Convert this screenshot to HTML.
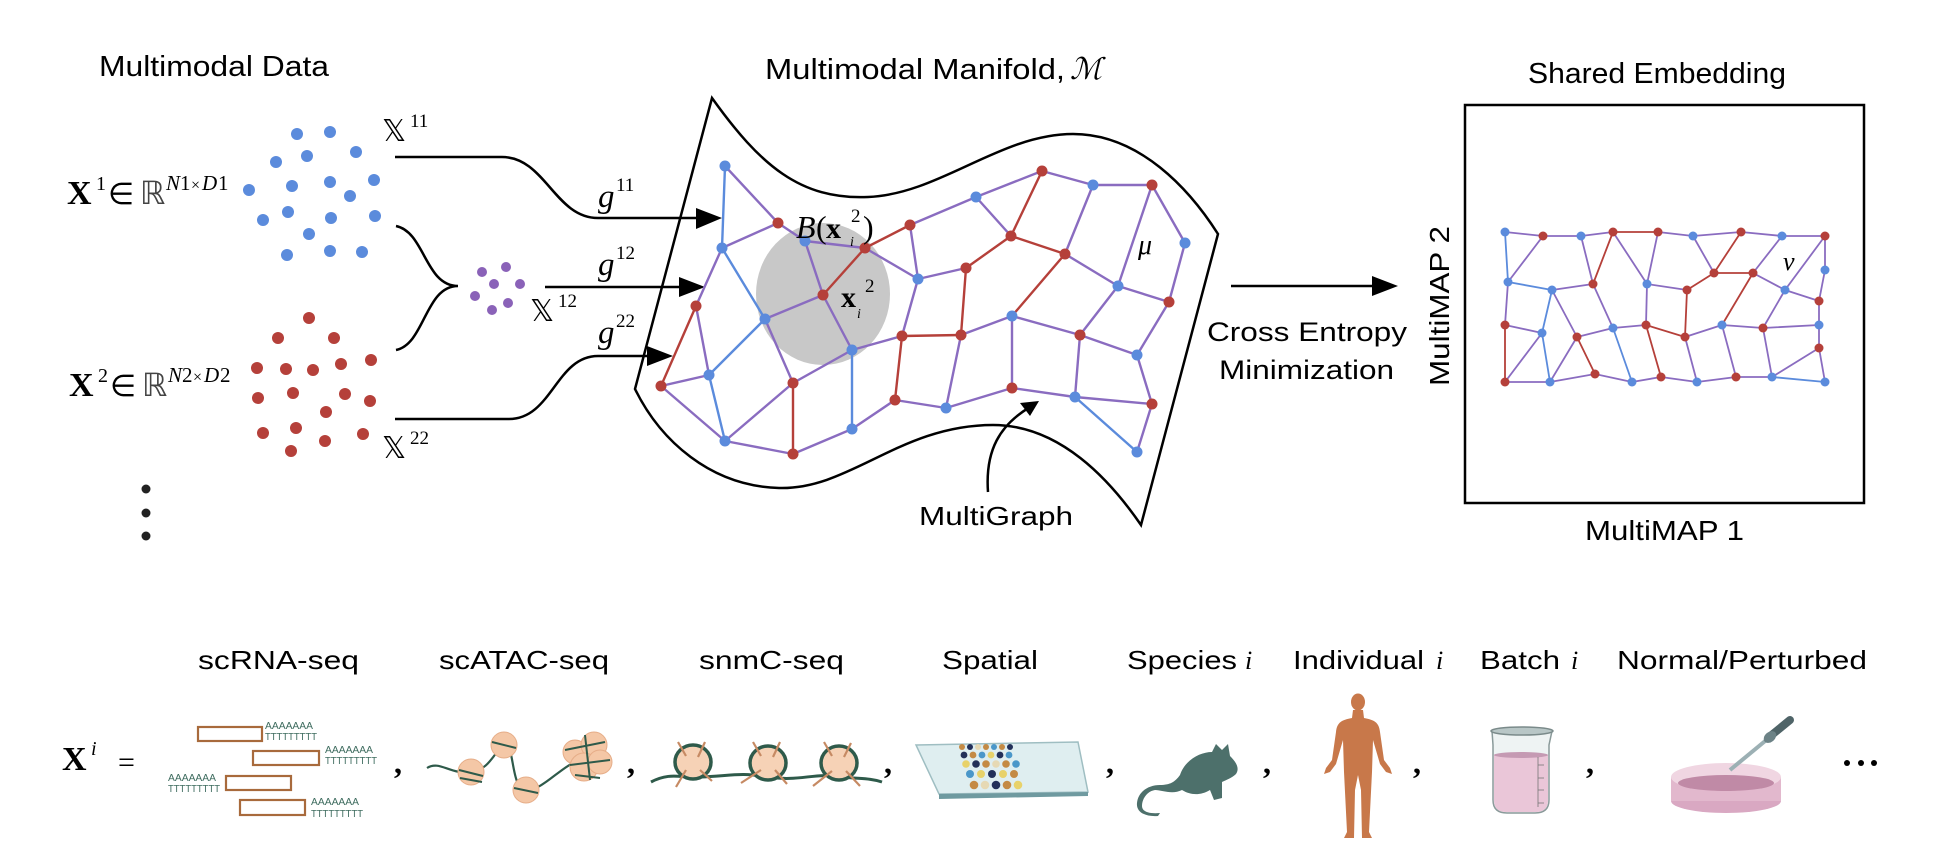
<!DOCTYPE html>
<html><head><meta charset="utf-8"><style>
html,body{margin:0;padding:0;background:#fff;}
svg{display:block;}
.s{font-family:"Liberation Sans",Arial,sans-serif;fill:#000;}
.m{font-family:"Liberation Serif","DejaVu Serif",serif;fill:#000;}
</style></head><body>
<svg width="1938" height="868" viewBox="0 0 1938 868" xmlns="http://www.w3.org/2000/svg">
<defs>
<marker id="ah" markerWidth="10" markerHeight="10" refX="9" refY="5" orient="auto" markerUnits="userSpaceOnUse"><path d="M0,0 L0,0" /></marker>
</defs>

<!-- Titles -->
<text class="s" x="99" y="76" font-size="29" textLength="230" lengthAdjust="spacingAndGlyphs">Multimodal Data</text>
<text class="s" x="765" y="79" font-size="29" textLength="300" lengthAdjust="spacingAndGlyphs">Multimodal Manifold,</text>
<text x="1070" y="79" font-size="30" font-style="italic" font-family="DejaVu Serif,serif">ℳ</text>
<text class="s" x="1528" y="83" font-size="29" textLength="258" lengthAdjust="spacingAndGlyphs">Shared Embedding</text>

<!-- X1 label -->
<text class="m" x="67" y="204" font-size="34" font-weight="bold">X</text>
<text class="m" x="96" y="190" font-size="20">1</text>
<text x="108" y="204" font-size="30" font-family="DejaVu Sans,sans-serif">∈</text>
<text x="140" y="204" font-size="32" font-family="DejaVu Sans,sans-serif" fill="#444">ℝ</text>
<text class="m" x="166" y="190" font-size="21" font-style="italic">N</text>
<text class="m" x="180" y="190" font-size="21">1</text>
<text class="m" x="191" y="190" font-size="16">×</text>
<text class="m" x="202" y="190" font-size="21" font-style="italic">D</text>
<text class="m" x="218" y="190" font-size="21">1</text>
<!-- X2 label -->
<text class="m" x="69" y="396" font-size="34" font-weight="bold">X</text>
<text class="m" x="98" y="382" font-size="20">2</text>
<text x="110" y="396" font-size="30" font-family="DejaVu Sans,sans-serif">∈</text>
<text x="142" y="396" font-size="32" font-family="DejaVu Sans,sans-serif" fill="#444">ℝ</text>
<text class="m" x="168" y="382" font-size="21" font-style="italic">N</text>
<text class="m" x="182" y="382" font-size="21">2</text>
<text class="m" x="193" y="382" font-size="16">×</text>
<text class="m" x="204" y="382" font-size="21" font-style="italic">D</text>
<text class="m" x="220" y="382" font-size="21">2</text>

<!-- blue dots -->
<g fill="#5b8bdc">
<circle cx="297" cy="134" r="6"/><circle cx="330" cy="132" r="6"/><circle cx="276" cy="162" r="6"/><circle cx="307" cy="156" r="6"/><circle cx="356" cy="152" r="6"/><circle cx="249" cy="190" r="6"/><circle cx="292" cy="186" r="6"/><circle cx="330" cy="182" r="6"/><circle cx="374" cy="180" r="6"/><circle cx="350" cy="196" r="6"/><circle cx="263" cy="220" r="6"/><circle cx="288" cy="212" r="6"/><circle cx="331" cy="218" r="6"/><circle cx="375" cy="216" r="6"/><circle cx="309" cy="234" r="6"/><circle cx="287" cy="255" r="6"/><circle cx="330" cy="251" r="6"/><circle cx="362" cy="252" r="6"/>
</g>
<g fill="#b5403a">
<circle cx="309" cy="318" r="6"/><circle cx="278" cy="338" r="6"/><circle cx="334" cy="338" r="6"/><circle cx="257" cy="368" r="6"/><circle cx="286" cy="369" r="6"/><circle cx="313" cy="370" r="6"/><circle cx="341" cy="364" r="6"/><circle cx="371" cy="360" r="6"/><circle cx="258" cy="398" r="6"/><circle cx="293" cy="393" r="6"/><circle cx="345" cy="394" r="6"/><circle cx="370" cy="401" r="6"/><circle cx="326" cy="412" r="6"/><circle cx="263" cy="433" r="6"/><circle cx="296" cy="428" r="6"/><circle cx="325" cy="441" r="6"/><circle cx="363" cy="434" r="6"/><circle cx="291" cy="451" r="6"/>
</g>
<g fill="#8a62b8">
<circle cx="482" cy="272" r="5"/><circle cx="506" cy="267" r="5"/><circle cx="494" cy="284" r="5"/><circle cx="520" cy="284" r="5"/><circle cx="475" cy="296" r="5"/><circle cx="508" cy="303" r="5"/><circle cx="492" cy="310" r="5"/>
</g>
<g fill="#222"><circle cx="146" cy="489" r="4.5"/><circle cx="146" cy="513" r="4.5"/><circle cx="146" cy="536" r="4.5"/></g>

<!-- double-struck labels -->
<text x="382" y="141" font-size="30" font-family="DejaVu Sans,sans-serif">𝕏</text><text class="m" x="410" y="127" font-size="19">11</text>
<text x="530" y="321" font-size="30" font-family="DejaVu Sans,sans-serif">𝕏</text><text class="m" x="558" y="307" font-size="19">12</text>
<text x="382" y="458" font-size="30" font-family="DejaVu Sans,sans-serif">𝕏</text><text class="m" x="410" y="444" font-size="19">22</text>

<!-- connectors -->
<g fill="none" stroke="#000" stroke-width="2.5">
<path d="M395,157 L502,157 C545,157 555,218 598,218 L700,218"/>
<path d="M396,226 C425,232 425,286 458,286 C425,286 425,344 396,350"/>
<path d="M545,287 L682,287"/>
<path d="M395,419 L509,419 C552,419 556,356 598,356 L650,356"/>
</g>
<g fill="#000">
<path d="M722,218 L696,208 L696,229 Z"/>
<path d="M705,287 L679,277 L679,297 Z"/>
<path d="M673,356 L647,346 L647,366 Z"/>
</g>
<text class="m" x="598" y="207" font-size="33" font-style="italic">g</text><text class="m" x="616" y="191" font-size="19">11</text>
<text class="m" x="598" y="275" font-size="33" font-style="italic">g</text><text class="m" x="616" y="259" font-size="19">12</text>
<text class="m" x="598" y="343" font-size="33" font-style="italic">g</text><text class="m" x="616" y="327" font-size="19">22</text>

<!-- manifold -->
<path d="M712,98 C760,165 800,200 868,197 C940,194 1000,134 1073,134 C1140,134 1190,190 1218,234 L1141,525 C1110,480 1060,425 993,425 C900,425 850,490 779,488 C710,486 660,440 635,389 Z" fill="none" stroke="#000" stroke-width="2.5"/>
<ellipse cx="823" cy="294" rx="67" ry="71" fill="#c8c8c8"/>

<g stroke-width="2.4" stroke-linecap="round">
<g stroke="#5b8bdc">
<line x1="725" y1="166" x2="722" y2="248"/><line x1="722" y1="248" x2="765" y2="319"/><line x1="765" y1="319" x2="709" y2="375"/><line x1="709" y1="375" x2="725" y2="441"/><line x1="852" y1="350" x2="852" y2="429"/><line x1="1075" y1="397" x2="1137" y2="452"/>
</g>
<g stroke="#b5403a">
<line x1="823" y1="295" x2="865" y2="248"/><line x1="865" y1="248" x2="910" y2="225"/><line x1="696" y1="306" x2="661" y2="386"/><line x1="793" y1="383" x2="793" y2="454"/><line x1="902" y1="336" x2="961" y2="335"/><line x1="902" y1="336" x2="895" y2="400"/><line x1="966" y1="268" x2="961" y2="335"/><line x1="966" y1="268" x2="1011" y2="236"/><line x1="1011" y1="236" x2="1042" y2="171"/><line x1="1011" y1="236" x2="1065" y2="254"/><line x1="1065" y1="254" x2="1012" y2="316"/>
</g>
<g stroke="#8a6cc0">
<line x1="725" y1="166" x2="778" y2="223"/><line x1="778" y1="223" x2="722" y2="248"/><line x1="778" y1="223" x2="805" y2="241"/><line x1="722" y1="248" x2="696" y2="306"/><line x1="805" y1="241" x2="865" y2="248"/><line x1="805" y1="241" x2="823" y2="295"/><line x1="865" y1="248" x2="918" y2="279"/><line x1="910" y1="225" x2="918" y2="279"/><line x1="910" y1="225" x2="976" y2="197"/><line x1="823" y1="295" x2="765" y2="319"/><line x1="765" y1="319" x2="793" y2="383"/><line x1="709" y1="375" x2="661" y2="386"/><line x1="696" y1="306" x2="709" y2="375"/><line x1="661" y1="386" x2="725" y2="441"/><line x1="725" y1="441" x2="793" y2="383"/><line x1="725" y1="441" x2="793" y2="454"/><line x1="793" y1="383" x2="852" y2="350"/><line x1="823" y1="295" x2="852" y2="350"/><line x1="793" y1="454" x2="852" y2="429"/><line x1="852" y1="429" x2="895" y2="400"/><line x1="852" y1="350" x2="902" y2="336"/><line x1="895" y1="400" x2="946" y2="408"/><line x1="946" y1="408" x2="1012" y2="388"/><line x1="961" y1="335" x2="946" y2="408"/><line x1="961" y1="335" x2="1012" y2="316"/><line x1="918" y1="279" x2="966" y2="268"/><line x1="918" y1="279" x2="902" y2="336"/><line x1="1042" y1="171" x2="976" y2="197"/><line x1="1042" y1="171" x2="1093" y2="185"/><line x1="1093" y1="185" x2="1152" y2="185"/><line x1="1011" y1="236" x2="976" y2="197"/><line x1="1065" y1="254" x2="1118" y2="286"/><line x1="1093" y1="185" x2="1065" y2="254"/><line x1="1152" y1="185" x2="1185" y2="243"/><line x1="1152" y1="185" x2="1118" y2="286"/><line x1="1118" y1="286" x2="1169" y2="302"/><line x1="1185" y1="243" x2="1169" y2="302"/><line x1="1169" y1="302" x2="1137" y2="355"/><line x1="1118" y1="286" x2="1080" y2="335"/><line x1="1080" y1="335" x2="1137" y2="355"/><line x1="1080" y1="335" x2="1075" y2="397"/><line x1="1012" y1="316" x2="1012" y2="388"/><line x1="1012" y1="316" x2="1080" y2="335"/><line x1="1012" y1="388" x2="1075" y2="397"/><line x1="1075" y1="397" x2="1152" y2="404"/><line x1="1137" y1="355" x2="1152" y2="404"/><line x1="1152" y1="404" x2="1137" y2="452"/>
</g>
</g>
<g fill="#5b8bdc">
<circle cx="725" cy="166" r="5.5"/><circle cx="722" cy="248" r="5.5"/><circle cx="805" cy="241" r="5.5"/><circle cx="765" cy="319" r="5.5"/><circle cx="709" cy="375" r="5.5"/><circle cx="725" cy="441" r="5.5"/><circle cx="852" cy="350" r="5.5"/><circle cx="852" cy="429" r="5.5"/><circle cx="918" cy="279" r="5.5"/><circle cx="976" cy="197" r="5.5"/><circle cx="1093" cy="185" r="5.5"/><circle cx="1185" cy="243" r="5.5"/><circle cx="1118" cy="286" r="5.5"/><circle cx="1012" cy="316" r="5.5"/><circle cx="946" cy="408" r="5.5"/><circle cx="1075" cy="397" r="5.5"/><circle cx="1137" cy="355" r="5.5"/><circle cx="1137" cy="452" r="5.5"/>
</g>
<g fill="#b5403a">
<circle cx="778" cy="223" r="5.5"/><circle cx="865" cy="248" r="5.5"/><circle cx="823" cy="295" r="5.5"/><circle cx="696" cy="306" r="5.5"/><circle cx="661" cy="386" r="5.5"/><circle cx="793" cy="383" r="5.5"/><circle cx="793" cy="454" r="5.5"/><circle cx="910" cy="225" r="5.5"/><circle cx="1042" cy="171" r="5.5"/><circle cx="1152" cy="185" r="5.5"/><circle cx="1011" cy="236" r="5.5"/><circle cx="1065" cy="254" r="5.5"/><circle cx="966" cy="268" r="5.5"/><circle cx="902" cy="336" r="5.5"/><circle cx="961" cy="335" r="5.5"/><circle cx="1080" cy="335" r="5.5"/><circle cx="1169" cy="302" r="5.5"/><circle cx="895" cy="400" r="5.5"/><circle cx="1012" cy="388" r="5.5"/><circle cx="1152" cy="404" r="5.5"/>
</g>
<text class="m" x="796" y="238" font-size="32" font-style="italic">B</text>
<text class="m" x="816" y="238" font-size="32">(</text>
<text class="m" x="826" y="238" font-size="30" font-weight="bold">x</text>
<text class="m" x="851" y="222" font-size="19">2</text>
<text class="m" x="850" y="246" font-size="14" font-style="italic">i</text>
<text class="m" x="863" y="238" font-size="32">)</text>
<text class="m" x="841" y="307" font-size="30" font-weight="bold">x</text>
<text class="m" x="865" y="292" font-size="19">2</text>
<text class="m" x="857" y="318" font-size="14" font-style="italic">i</text>
<text class="m" x="1138" y="254" font-size="28" font-style="italic">μ</text>

<path d="M988,492 C985,450 1000,425 1030,407" fill="none" stroke="#000" stroke-width="2.5"/>
<path d="M1039,401 L1020,403 L1030,416 Z" fill="#000"/>
<text class="s" x="919" y="525" font-size="26" textLength="154" lengthAdjust="spacingAndGlyphs">MultiGraph</text>

<!-- Cross entropy arrow -->
<line x1="1231" y1="286" x2="1375" y2="286" stroke="#000" stroke-width="2.5"/>
<path d="M1398,286 L1372,276 L1372,296 Z" fill="#000"/>
<text class="s" x="1207" y="341" font-size="27" textLength="200" lengthAdjust="spacingAndGlyphs">Cross Entropy</text>
<text class="s" x="1219" y="379" font-size="27" textLength="175" lengthAdjust="spacingAndGlyphs">Minimization</text>

<!-- embedding box -->
<rect x="1465" y="105" width="399" height="398" fill="none" stroke="#000" stroke-width="2.5"/>
<text class="s" transform="translate(1449,386) rotate(-90)" x="0" y="0" font-size="28" textLength="160" lengthAdjust="spacingAndGlyphs">MultiMAP 2</text>
<text class="s" x="1585" y="540" font-size="28" textLength="159" lengthAdjust="spacingAndGlyphs">MultiMAP 1</text>

<g stroke-width="1.8" stroke-linecap="round">
<g stroke="#8a6cc0">
<polyline fill="none" points="1505,232 1543,236 1581,236 1613,232"/><polyline fill="none" points="1658,232 1693,236 1741,232 1782,236 1825,236"/>
<line x1="1543" y1="236" x2="1508" y2="282"/><line x1="1581" y1="236" x2="1593" y2="284"/><line x1="1613" y1="232" x2="1647" y2="284"/><line x1="1658" y1="232" x2="1647" y2="284"/><line x1="1693" y1="236" x2="1714" y2="273"/><line x1="1782" y1="236" x2="1753" y2="273"/><line x1="1825" y1="236" x2="1785" y2="290"/><line x1="1825" y1="236" x2="1825" y2="270"/><line x1="1753" y1="273" x2="1785" y2="290"/><line x1="1785" y1="290" x2="1819" y2="301"/><line x1="1825" y1="270" x2="1819" y2="301"/><line x1="1819" y1="301" x2="1819" y2="325"/><line x1="1552" y1="290" x2="1593" y2="284"/><line x1="1647" y1="284" x2="1687" y2="290"/><line x1="1508" y1="282" x2="1505" y2="325"/><line x1="1552" y1="290" x2="1577" y2="337"/><line x1="1593" y1="284" x2="1613" y2="328"/><line x1="1647" y1="284" x2="1646" y2="325"/><line x1="1785" y1="290" x2="1763" y2="328"/>
<line x1="1505" y1="325" x2="1542" y2="333"/><line x1="1577" y1="337" x2="1613" y2="328"/><line x1="1613" y1="328" x2="1646" y2="325"/><line x1="1685" y1="337" x2="1722" y2="325"/><line x1="1722" y1="325" x2="1763" y2="328"/><line x1="1763" y1="328" x2="1819" y2="325"/><line x1="1819" y1="325" x2="1819" y2="348"/>
<line x1="1542" y1="333" x2="1505" y2="382"/><line x1="1577" y1="337" x2="1550" y2="382"/><line x1="1685" y1="337" x2="1697" y2="382"/><line x1="1722" y1="325" x2="1736" y2="377"/><line x1="1763" y1="328" x2="1772" y2="377"/><line x1="1819" y1="348" x2="1772" y2="377"/><line x1="1819" y1="348" x2="1825" y2="382"/>
<polyline fill="none" points="1505,382 1550,382 1595,374 1632,382 1661,377 1697,382 1736,377 1772,377"/>
</g>
<g stroke="#5b8bdc">
<line x1="1505" y1="232" x2="1508" y2="282"/><line x1="1508" y1="282" x2="1552" y2="290"/><line x1="1552" y1="290" x2="1542" y2="333"/><line x1="1542" y1="333" x2="1550" y2="382"/><line x1="1613" y1="328" x2="1632" y2="382"/><line x1="1772" y1="377" x2="1825" y2="382"/>
</g>
<g stroke="#b5403a">
<line x1="1613" y1="232" x2="1658" y2="232"/><line x1="1613" y1="232" x2="1593" y2="284"/><line x1="1741" y1="232" x2="1714" y2="273"/><line x1="1714" y1="273" x2="1753" y2="273"/><line x1="1714" y1="273" x2="1687" y2="290"/><line x1="1687" y1="290" x2="1685" y2="337"/><line x1="1753" y1="273" x2="1722" y2="325"/><line x1="1646" y1="325" x2="1685" y2="337"/><line x1="1505" y1="325" x2="1505" y2="382"/><line x1="1577" y1="337" x2="1595" y2="374"/><line x1="1646" y1="325" x2="1661" y2="377"/>
</g>
</g>
<g fill="#5b8bdc">
<circle cx="1505" cy="232" r="4.5"/><circle cx="1581" cy="236" r="4.5"/><circle cx="1693" cy="236" r="4.5"/><circle cx="1782" cy="236" r="4.5"/><circle cx="1508" cy="282" r="4.5"/><circle cx="1552" cy="290" r="4.5"/><circle cx="1647" cy="284" r="4.5"/><circle cx="1785" cy="290" r="4.5"/><circle cx="1825" cy="270" r="4.5"/><circle cx="1542" cy="333" r="4.5"/><circle cx="1613" cy="328" r="4.5"/><circle cx="1722" cy="325" r="4.5"/><circle cx="1819" cy="325" r="4.5"/><circle cx="1550" cy="382" r="4.5"/><circle cx="1632" cy="382" r="4.5"/><circle cx="1697" cy="382" r="4.5"/><circle cx="1772" cy="377" r="4.5"/><circle cx="1825" cy="382" r="4.5"/>
</g>
<g fill="#b5403a">
<circle cx="1543" cy="236" r="4.5"/><circle cx="1613" cy="232" r="4.5"/><circle cx="1658" cy="232" r="4.5"/><circle cx="1741" cy="232" r="4.5"/><circle cx="1825" cy="236" r="4.5"/><circle cx="1593" cy="284" r="4.5"/><circle cx="1687" cy="290" r="4.5"/><circle cx="1714" cy="273" r="4.5"/><circle cx="1753" cy="273" r="4.5"/><circle cx="1819" cy="301" r="4.5"/><circle cx="1505" cy="325" r="4.5"/><circle cx="1577" cy="337" r="4.5"/><circle cx="1646" cy="325" r="4.5"/><circle cx="1685" cy="337" r="4.5"/><circle cx="1763" cy="328" r="4.5"/><circle cx="1819" cy="348" r="4.5"/><circle cx="1505" cy="382" r="4.5"/><circle cx="1595" cy="374" r="4.5"/><circle cx="1661" cy="377" r="4.5"/><circle cx="1736" cy="377" r="4.5"/>
</g>
<text class="m" x="1783" y="270" font-size="26" font-style="italic">ν</text>

<!-- bottom labels -->
<text class="s" x="198" y="669" font-size="26" textLength="161" lengthAdjust="spacingAndGlyphs">scRNA-seq</text>
<text class="s" x="439" y="669" font-size="26" textLength="170" lengthAdjust="spacingAndGlyphs">scATAC-seq</text>
<text class="s" x="699" y="669" font-size="26" textLength="145" lengthAdjust="spacingAndGlyphs">snmC-seq</text>
<text class="s" x="942" y="669" font-size="26" textLength="96" lengthAdjust="spacingAndGlyphs">Spatial</text>
<text class="s" x="1127" y="669" font-size="26" textLength="110" lengthAdjust="spacingAndGlyphs">Species</text><text class="m" x="1245" y="669" font-size="26" font-style="italic">i</text>
<text class="s" x="1293" y="669" font-size="26" textLength="131" lengthAdjust="spacingAndGlyphs">Individual</text><text class="m" x="1436" y="669" font-size="26" font-style="italic">i</text>
<text class="s" x="1480" y="669" font-size="26" textLength="80" lengthAdjust="spacingAndGlyphs">Batch</text><text class="m" x="1571" y="669" font-size="26" font-style="italic">i</text>
<text class="s" x="1617" y="669" font-size="26" textLength="250" lengthAdjust="spacingAndGlyphs">Normal/Perturbed</text>

<text class="m" x="62" y="770" font-size="34" font-weight="bold">X</text>
<text class="m" x="91" y="755" font-size="20" font-style="italic">i</text>
<text class="m" x="118" y="772" font-size="30">=</text>

<!-- RNA -->
<g fill="none" stroke="#a86a3c" stroke-width="2.2">
<rect x="198" y="727" width="64" height="14"/><rect x="253" y="751" width="66" height="14"/><rect x="226" y="776" width="65" height="14"/><rect x="240" y="800" width="65" height="15"/>
</g>
<g font-family="Liberation Sans,sans-serif" font-size="10" fill="#3d6b5e">
<text x="265" y="729" textLength="48" lengthAdjust="spacingAndGlyphs">AAAAAAA</text><text x="265" y="740" textLength="52" lengthAdjust="spacingAndGlyphs">TTTTTTTTT</text>
<text x="325" y="753" textLength="48" lengthAdjust="spacingAndGlyphs">AAAAAAA</text><text x="325" y="764" textLength="52" lengthAdjust="spacingAndGlyphs">TTTTTTTTT</text>
<text x="168" y="781" textLength="48" lengthAdjust="spacingAndGlyphs">AAAAAAA</text><text x="168" y="792" textLength="52" lengthAdjust="spacingAndGlyphs">TTTTTTTTT</text>
<text x="311" y="805" textLength="48" lengthAdjust="spacingAndGlyphs">AAAAAAA</text><text x="311" y="817" textLength="52" lengthAdjust="spacingAndGlyphs">TTTTTTTTT</text>
</g>
<g class="m" font-size="32" font-weight="bold">
<text x="394" y="773">,</text><text x="627" y="773">,</text><text x="884" y="773">,</text><text x="1106" y="773">,</text><text x="1263" y="773">,</text><text x="1413" y="773">,</text><text x="1586" y="773">,</text>
</g>

<!-- ATAC -->
<path d="M427,768 C440,760 450,775 471,772 C490,770 495,750 504,745 C515,740 510,790 526,790 C545,790 560,765 585,758 C598,754 605,760 610,755" fill="none" stroke="#2e5a4a" stroke-width="2.2"/>
<g fill="#f4c7a6" stroke="#e6ad88" stroke-width="1">
<circle cx="471" cy="772" r="13"/><circle cx="504" cy="745" r="13"/><circle cx="526" cy="790" r="13"/>
<circle cx="575" cy="752" r="12"/><circle cx="594" cy="745" r="13"/><circle cx="584" cy="767" r="14"/><circle cx="600" cy="762" r="12"/>
</g>
<g stroke="#2e5a4a" stroke-width="2" fill="none">
<path d="M459,770 L483,776 M460,778 L482,782 M492,742 L516,748 M514,788 L538,793 M565,750 L605,742 M570,765 L610,760 M575,775 L600,778 M585,735 L590,780"/>
</g>

<!-- snmC -->
<path d="M651,782 C670,772 680,778 700,777 C730,776 740,772 768,777 C800,782 815,772 842,777 C860,779 870,778 882,782" fill="none" stroke="#2e5a4a" stroke-width="3"/>
<g>
<ellipse cx="693" cy="762" rx="18" ry="17" fill="#f6d2b6" stroke="#2e5a4a" stroke-width="3.5"/>
<ellipse cx="768" cy="763" rx="18" ry="17" fill="#f6d2b6" stroke="#2e5a4a" stroke-width="3.5"/>
<ellipse cx="839" cy="763" rx="18" ry="17" fill="#f6d2b6" stroke="#2e5a4a" stroke-width="3.5"/>
</g>
<g stroke="#c68a63" stroke-width="2.2" fill="none">
<path d="M678,742 L686,756 M705,742 L698,757 M676,787 L686,770 M712,781 L700,770"/>
<path d="M753,742 L761,756 M780,742 L773,757 M741,783 L761,770 M787,784 L775,770"/>
<path d="M824,742 L832,756 M851,743 L844,757 M813,786 L832,771 M860,786 L846,771"/>
</g>

<!-- spatial slide -->
<path d="M916,745 L1078,742 L1088,792 L939,794 Z" fill="#dfeef0" stroke="#9fbec2" stroke-width="1.5"/>
<path d="M939,794 L1088,792 L1088,796 L939,799 Z" fill="#6f9aa0"/>
<g>
<circle cx="962" cy="747" r="3" fill="#c48a44"/><circle cx="970" cy="747" r="3" fill="#233059"/><circle cx="978" cy="747" r="3" fill="#e6d9b4"/><circle cx="986" cy="747" r="3" fill="#c48a44"/><circle cx="994" cy="747" r="3" fill="#4b97c9"/><circle cx="1002" cy="747" r="3" fill="#c48a44"/><circle cx="1010" cy="747" r="3" fill="#233059"/>
<circle cx="964" cy="755" r="3.4" fill="#233059"/><circle cx="973" cy="755" r="3.4" fill="#c48a44"/><circle cx="982" cy="755" r="3.4" fill="#4b97c9"/><circle cx="991" cy="755" r="3.4" fill="#e8d26a"/><circle cx="1000" cy="755" r="3.4" fill="#233059"/><circle cx="1009" cy="755" r="3.4" fill="#4b97c9"/>
<circle cx="966" cy="764" r="3.8" fill="#e8d26a"/><circle cx="976" cy="764" r="3.8" fill="#233059"/><circle cx="986" cy="764" r="3.8" fill="#c48a44"/><circle cx="996" cy="764" r="3.8" fill="#e6d9b4"/><circle cx="1006" cy="764" r="3.8" fill="#c48a44"/><circle cx="1016" cy="764" r="3.8" fill="#4b97c9"/>
<circle cx="970" cy="774" r="4" fill="#4b97c9"/><circle cx="981" cy="774" r="4" fill="#e8d26a"/><circle cx="992" cy="774" r="4" fill="#233059"/><circle cx="1003" cy="774" r="4" fill="#e8d26a"/><circle cx="1014" cy="774" r="4" fill="#c48a44"/>
<circle cx="974" cy="785" r="4.3" fill="#c48a44"/><circle cx="985" cy="785" r="4.3" fill="#e6d9b4"/><circle cx="996" cy="785" r="4.3" fill="#233059"/><circle cx="1007" cy="785" r="4.3" fill="#c48a44"/><circle cx="1018" cy="785" r="4.3" fill="#e8d26a"/>
</g>

<!-- mouse -->
<g fill="#4d706b">
<path d="M1180,775 C1185,760 1200,752 1212,752 L1216,744 L1222,750 L1228,744 L1230,756 C1236,762 1240,768 1236,774 C1232,778 1226,780 1222,782 L1222,798 L1214,800 L1210,790 C1200,796 1190,795 1182,790 C1172,795 1162,790 1155,790 C1148,791 1142,798 1142,806 C1142,812 1150,814 1160,813 L1158,816 C1145,817 1136,812 1137,803 C1138,792 1148,785 1160,785 C1170,785 1175,782 1180,775 Z"/>
</g>

<!-- human -->
<g fill="#c8784a">
<ellipse cx="1358" cy="702" rx="7" ry="8.5"/>
<path d="M1353,710 L1363,710 L1364,718 C1374,720 1379,722 1380,732 L1384,760 L1390,768 L1392,774 L1386,772 L1380,764 L1373,740 L1372,772 L1369,832 L1372,838 L1362,838 L1361,790 L1358,775 L1355,790 L1354,838 L1344,838 L1347,832 L1344,772 L1343,740 L1336,764 L1330,772 L1324,774 L1326,768 L1332,760 L1336,732 C1337,722 1342,720 1352,718 Z"/>
</g>

<!-- beaker -->
<path d="M1492,731 L1552,731 L1549,745 L1549,800 C1549,808 1545,813 1535,813 L1507,813 C1497,813 1493,808 1493,800 L1493,745 Z" fill="#eef3f3" stroke="#8a9a9a" stroke-width="1.5"/>
<path d="M1494,755 C1510,752 1535,752 1548,755 L1548,800 C1548,808 1544,812 1535,812 L1507,812 C1498,812 1494,808 1494,800 Z" fill="#eac6d8"/>
<ellipse cx="1521" cy="755" rx="27" ry="3" fill="#c59ab3"/>
<ellipse cx="1522" cy="731" rx="31" ry="4" fill="#b8c6c6" stroke="#7a8a8a" stroke-width="1.5"/>
<g stroke="#777" stroke-width="0.8"><line x1="1538" y1="757" x2="1538" y2="807"/><line x1="1538" y1="765" x2="1544" y2="765"/><line x1="1538" y1="778" x2="1544" y2="778"/><line x1="1538" y1="790" x2="1544" y2="790"/><line x1="1538" y1="803" x2="1544" y2="803"/></g>

<!-- dish -->
<ellipse cx="1726" cy="801" rx="55" ry="12" fill="#d9a8c2"/>
<rect x="1671" y="777" width="110" height="24" fill="#e2b8cd"/>
<ellipse cx="1726" cy="777" rx="55" ry="14" fill="#f0d6e2"/>
<ellipse cx="1726" cy="783" rx="48" ry="8" fill="#c08aa6"/>
<path d="M1730,770 L1770,737" stroke="#9cb0b4" stroke-width="4"/>
<path d="M1768,738 L1790,720" stroke="#4f6468" stroke-width="8" stroke-linecap="round"/>
<ellipse cx="1770" cy="737" rx="7" ry="5" fill="#6c8286" transform="rotate(-40 1770 737)"/>

<g fill="#000"><circle cx="1847" cy="763" r="3"/><circle cx="1861" cy="763" r="3"/><circle cx="1874" cy="763" r="3"/></g>
</svg>
</body></html>
